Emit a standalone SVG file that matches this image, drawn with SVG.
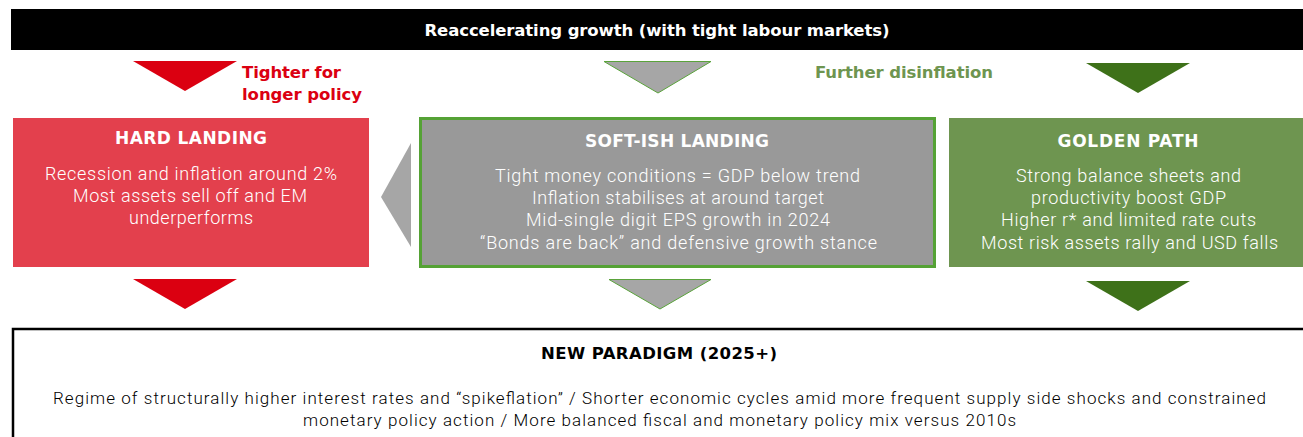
<svg xmlns="http://www.w3.org/2000/svg" width="1303" height="437" viewBox="0 0 1303 437">
  <style>
    .hdr { font-family: "DejaVu Sans", "Liberation Sans", sans-serif; font-weight: bold; font-size: 16.5px; }
    .ttl { font-family: "DejaVu Sans", "Liberation Sans", sans-serif; font-weight: bold; font-size: 17px; fill: #ffffff; text-anchor: middle; }
    .body { font-family: "Roboto Light", Roboto, "Liberation Sans", sans-serif; font-weight: 300; font-size: 18px; fill: #ffffff; text-anchor: middle; }
    .foot { font-family: "Roboto Light", Roboto, "Liberation Sans", sans-serif; font-weight: 300; font-size: 17px; fill: #000000; text-anchor: middle; }
    .red-arrow { fill: #db0011; }
    .grey-arrow { fill: #a6a6a6; stroke: #5aa33b; stroke-width: 1; }
    .green-arrow { fill: #3e7119; }
  </style>

  <!-- Top banner -->
  <g id="banner">
    <rect x="11" y="9" width="1292" height="41" fill="#000000"/>
    <text class="hdr" x="657" y="36" fill="#ffffff" text-anchor="middle" textLength="465" lengthAdjust="spacing">Reaccelerating growth (with tight labour markets)</text>
  </g>

  <!-- Connectors: scenario arrows -->
  <g id="connectors">
    <polygon class="red-arrow" points="133,61 237,61 185,91"/>
    <polygon class="grey-arrow" points="604,61.5 711,61.5 658,93"/>
    <polygon class="green-arrow" points="1086,63 1190,63 1138,93"/>
    <polygon fill="#a6a6a6" points="411,143 411,247 381,197"/>
    <polygon class="red-arrow" points="133,279 237,279 185,309"/>
    <polygon class="grey-arrow" points="609,279.5 711,279.5 660,309"/>
    <polygon class="green-arrow" points="1086,281 1190,281 1138,311"/>
    <text class="hdr" x="242" y="78" fill="#db0011" textLength="99" lengthAdjust="spacing">Tighter for</text>
    <text class="hdr" x="242" y="100" fill="#db0011" textLength="120" lengthAdjust="spacing">longer policy</text>
    <text class="hdr" x="815" y="78" fill="#6e9550" textLength="178" lengthAdjust="spacing">Further disinflation</text>
  </g>

  <!-- Hard landing scenario -->
  <g id="hard-landing">
    <rect x="13" y="118" width="356" height="149" fill="#e3404d"/>
    <text class="ttl" x="191" y="144" textLength="152" lengthAdjust="spacing">HARD LANDING</text>
    <text class="body" x="191" y="180" textLength="292" lengthAdjust="spacing">Recession and inflation around 2%</text>
    <text class="body" x="190" y="202" textLength="234" lengthAdjust="spacing">Most assets sell off and EM</text>
    <text class="body" x="191" y="224" textLength="124" lengthAdjust="spacing">underperforms</text>
  </g>

  <!-- Soft-ish landing scenario -->
  <g id="soft-landing">
    <rect x="420.5" y="118.5" width="514" height="148" fill="#999999" stroke="#55a235" stroke-width="3"/>
    <text class="ttl" x="677" y="147" textLength="184" lengthAdjust="spacing">SOFT-ISH LANDING</text>
    <text class="body" x="677.5" y="182" textLength="365" lengthAdjust="spacing">Tight money conditions = GDP below trend</text>
    <text class="body" x="678" y="204" textLength="292" lengthAdjust="spacing">Inflation stabilises at around target</text>
    <text class="body" x="678" y="226" textLength="304" lengthAdjust="spacing">Mid-single digit EPS growth in 2024</text>
    <text class="body" x="678.5" y="249" textLength="397" lengthAdjust="spacing">“Bonds are back” and defensive growth stance</text>
  </g>

  <!-- Golden path scenario -->
  <g id="golden-path">
    <rect x="949" y="118" width="354" height="149" fill="#6e9550"/>
    <text class="ttl" x="1128" y="147" textLength="141" lengthAdjust="spacing">GOLDEN PATH</text>
    <text class="body" x="1128.5" y="182" textLength="225" lengthAdjust="spacing">Strong balance sheets and</text>
    <text class="body" x="1128.5" y="204" textLength="195" lengthAdjust="spacing">productivity boost GDP</text>
    <text class="body" x="1128.5" y="226" textLength="255" lengthAdjust="spacing">Higher r* and limited rate cuts</text>
    <text class="body" x="1129.5" y="249" textLength="297" lengthAdjust="spacing">Most risk assets rally and USD falls</text>
  </g>

  <!-- Long-run regime -->
  <g id="new-paradigm">
    <path d="M13,437 V329 H1303" fill="none" stroke="#000000" stroke-width="2.5"/>
    <text class="hdr" x="659" y="359" fill="#000000" text-anchor="middle" textLength="236" lengthAdjust="spacing">NEW PARADIGM (2025+)</text>
    <text class="foot" x="659.5" y="404" textLength="1213" lengthAdjust="spacing">Regime of structurally higher interest rates and “spikeflation” / Shorter economic cycles amid more frequent supply side shocks and constrained</text>
    <text class="foot" x="659.5" y="426" textLength="713" lengthAdjust="spacing">monetary policy action / More balanced fiscal and monetary policy mix versus 2010s</text>
  </g>
</svg>
